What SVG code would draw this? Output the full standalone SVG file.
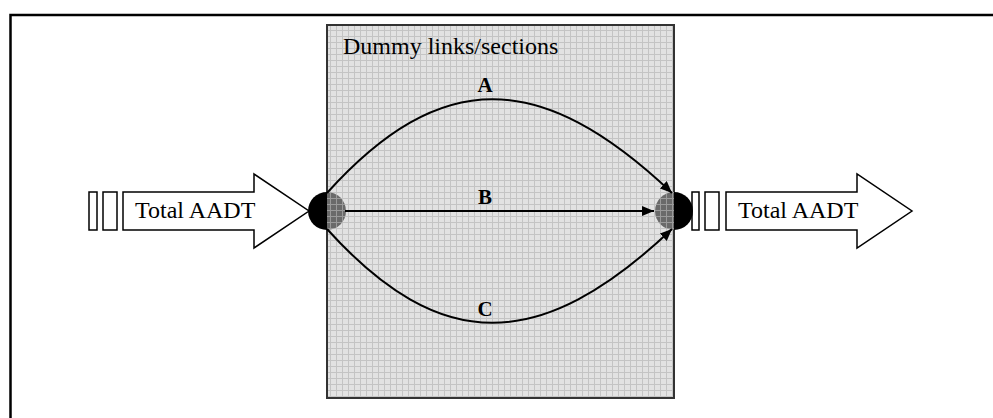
<svg xmlns="http://www.w3.org/2000/svg" width="993" height="418" viewBox="0 0 993 418">
<style>
.lbl{font-family:"Liberation Serif","Times New Roman",serif;fill:#000}
.big{font-size:24px}
.bold{font-size:21px;font-weight:bold}
.conn{fill:none;stroke:#000;stroke-width:2}
.out{fill:#fff;stroke:#000;stroke-width:1.5}
</style>
<defs>
<pattern id="grid" width="6" height="6" patternUnits="userSpaceOnUse">
<rect width="6" height="6" fill="#e2e2e2"/>
<path d="M0 0.5H6M0.5 0V6" stroke="#c4c4c4" stroke-width="1"/>
</pattern>
<pattern id="dgrid" width="6" height="6" patternUnits="userSpaceOnUse">
<rect width="6" height="6" fill="#6a6a6a"/>
<path d="M0 0.5H6M0.5 0V6" stroke="#9a9a9a" stroke-width="1"/>
</pattern>
<marker id="ah" viewBox="0 0 12 10" refX="12" refY="5" markerWidth="12" markerHeight="10" markerUnits="userSpaceOnUse" orient="auto">
<path d="M0 0L12 5L0 10Z" fill="#000"/>
</marker>
</defs>
<rect width="993" height="418" fill="#fff"/>
<path d="M10.5 418V15H993" fill="none" stroke="#000" stroke-width="2.5"/>
<g id="box">
<rect x="327" y="25" width="347" height="373" fill="url(#grid)" stroke="#333" stroke-width="2"/>
<text class="lbl big" x="343" y="54">Dummy links/sections</text>
</g>
<g id="in-arrow">
<rect class="out" x="89" y="192" width="8" height="38"/>
<rect class="out" x="103" y="192" width="14" height="38"/>
<path class="out" d="M123 192H254V174L309 211L254 248V230H123Z"/>
<text class="lbl big" x="135" y="218">Total AADT</text>
</g>
<g id="out-arrow">
<rect class="out" x="692" y="192" width="7" height="38"/>
<rect class="out" x="705" y="192" width="14" height="38"/>
<path class="out" d="M726 192H857V174L912 211L857 248V230H726Z"/>
<text class="lbl big" x="738" y="218">Total AADT</text>
</g>
<g id="node-left">
<path d="M327 192A19 19 0 0 0 327 230Z" fill="#000"/>
<path d="M327 192A19 19 0 0 1 327 230Z" fill="url(#dgrid)"/>
</g>
<g id="node-right">
<path d="M674 192A19 19 0 0 0 674 230Z" fill="url(#dgrid)"/>
<path d="M674 192A19 19 0 0 1 674 230Z" fill="#000"/>
</g>
<g id="connectors">
<path class="conn" d="M327 193C440 68 540 68 672 193" marker-end="url(#ah)"/>
<path class="conn" d="M345 211H654" stroke-width="1.5" marker-end="url(#ah)"/>
<path class="conn" d="M327 229C440 354 540 354 672 229" marker-end="url(#ah)"/>
</g>
<g id="labels">
<text class="lbl bold" x="485" y="92" text-anchor="middle">A</text>
<text class="lbl bold" x="485" y="204" text-anchor="middle">B</text>
<text class="lbl bold" x="485" y="316" text-anchor="middle">C</text>
</g>
</svg>
